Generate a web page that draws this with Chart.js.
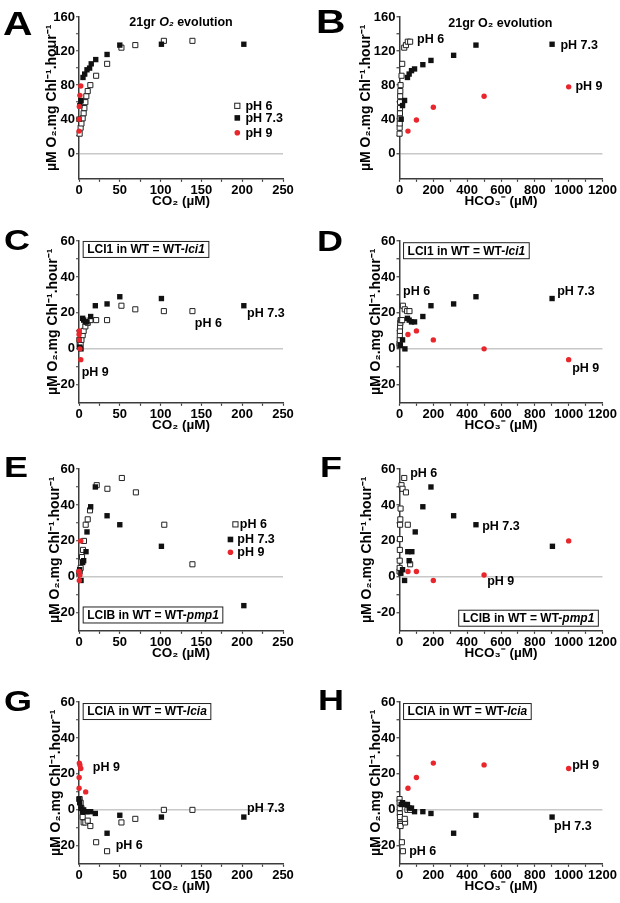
<!DOCTYPE html>
<html>
<head>
<meta charset="utf-8">
<script src="https://cdn.jsdelivr.net/npm/chart.js@4.4.1/dist/chart.umd.min.js"></script>
<style>
  body { margin: 0; background: #fff; }
  #fig { position: relative; width: 620px; height: 903px; overflow: hidden; }
  canvas { position: absolute; }
  .tag { position: absolute; font: bold 30px "Liberation Sans", Arial, sans-serif; line-height: 1;
         transform: scaleX(1.2); transform-origin: left top; color: #000; }
</style>
</head>
<body>
<div id="fig">
  <canvas id="pA"></canvas><canvas id="pB"></canvas>
  <canvas id="pC"></canvas><canvas id="pD"></canvas>
  <canvas id="pE"></canvas><canvas id="pF"></canvas>
  <canvas id="pG"></canvas><canvas id="pH"></canvas>
  <div class="tag" style="left:3px;top:6px;font-size:34px">A</div>
  <div class="tag" style="left:316px;top:4px;font-size:34px">B</div>
  <div class="tag" style="left:4px;top:225px">C</div>
  <div class="tag" style="left:317px;top:226px">D</div>
  <div class="tag" style="left:4px;top:452px">E</div>
  <div class="tag" style="left:320px;top:452px">F</div>
  <div class="tag" style="left:4px;top:686px">G</div>
  <div class="tag" style="left:318px;top:685px">H</div>
</div>
<script>
const FONT = '"Liberation Sans", Arial, Helvetica, sans-serif';
const AXIS = '#3c3c3c';
const RED = '#e8262b';

// tick labels
const co2Ticks = [0, 50, 100, 150, 200, 250];
const hco3Ticks = [0, 200, 400, 600, 800, 1000, 1200];
const rateTicksBig = [0, 40, 80, 120, 160];
const rateTicks = [-20, 0, 20, 40, 60];

// [CO2 or HCO3- (uM), rate] pairs, per panel and pH
const aPh6 = [[0.8,23],[2,30],[3,35],[4.5,41],[5.7,47],[6.6,53],[7.8,60],[9,67],[10.7,73],[13.9,80],[21,91],[34.5,105],[52,124],[69,127],[104,132],[139,132]];
const aPh73 = [[0,40],[1,56],[2.5,62],[4.9,89],[7,93],[9.8,98],[13,100],[15,105],[20.5,110],[34.4,116],[50,127],[101,128],[202,128]];
const aPh9 = [[0.1,26],[0.2,40],[0.4,55],[1.1,68],[2.2,79]];

const bPh6 = [[0.4,23],[0.9,30],[1.4,35],[2,41],[2.6,47],[3,53],[3.5,60],[4,67],[4.8,73],[6.3,80],[12,91],[16,105],[28,124],[38,127],[49,131],[63,131]];
const bPh73 = [[10,40],[18,56],[30,62],[47,89],[57,93],[71,97],[89,99],[138,104],[186,109],[320,115],[452,127],[902,128]];
const bPh9 = [[50,26],[100,39],[200,54],[500,67],[1000,78]];

const cPh6 = [[0.8,2],[2,3],[3,5],[4.5,7.6],[5.7,10],[7.8,12.5],[10.7,14.5],[14,16],[21,16],[34.4,16],[52,24],[69,22],[104,21],[139,21]];
const cPh73 = [[0,5],[0.8,1],[2.5,0],[4.5,17],[5.7,16],[7.8,15],[9.8,15],[14.3,18],[20,24],[34.4,25],[50,29],[101,28],[202,24]];
const cPh9 = [[0.1,8],[0.2,10],[0.4,5],[1.1,0],[2.2,-6]];

const dPh6 = [[0.4,2],[0.9,3],[1.4,5],[2,7.6],[2.6,10],[3.5,12.5],[4.8,14.5],[6.3,16],[10,16],[16,16],[20,24],[31,22],[45,21],[59,21]];
const dPh73 = [[5,2],[18,5],[32,0],[47,17],[57,16],[71,15],[89,15],[138,18],[186,24],[320,25],[452,29],[902,28]];
const dPh9 = [[50,8],[100,10],[200,5],[500,0],[1000,-6]];

const ePh6 = [[0.8,3],[2,5],[3.7,11],[4.9,15],[6.1,20],[8.2,29],[10.7,32],[13.5,37],[21.7,51],[34.8,49],[52.5,55],[69.7,47],[104.5,29],[139,7]];
const ePh73 = [[0,2],[0.8,4],[2.5,-2],[4.5,8],[5.7,9],[8.6,14],[9.8,25],[14.3,39],[20,50],[34.4,34],[50,29],[101,17],[202,-16]];
const ePh9 = [[0.1,3],[0.2,3],[0.4,-2],[1.1,1],[2.2,20]];

const fPh6 = [[0.4,3],[0.9,5],[1.4,9],[2,15],[2.6,21],[3.5,29],[4.8,32],[6.3,38],[12,51],[18,49],[28,55],[38,47],[49,29],[63,7]];
const fPh73 = [[8,2],[18,4],[30,-2],[49,14],[57,9],[73,14],[93,25],[138,39],[186,50],[320,34],[452,29],[904,17]];
const fPh9 = [[50,3],[100,3],[200,-2],[500,1],[1000,20]];

const gPh6 = [[0.8,6],[2,4],[3,1],[4.5,-4],[5.7,-7],[7.8,-7],[10.7,-6],[13.9,-9],[21,-18],[34.4,-23],[52,-7],[69,-5],[104,0],[139,0]];
const gPh73 = [[0,6],[0.8,4],[2.5,1],[4.5,-1],[5.7,0],[7.8,-1],[9.8,-1],[14.3,-1],[20,-2],[34.4,-13],[50,-3],[101,-4],[202,-4]];
const gPh9 = [[0.1,12],[0.2,18],[0.4,26],[1.1,25],[2.2,23],[8.2,10]];

const hPh6 = [[0.4,6],[0.9,4],[1.4,1],[2,-2],[2.6,-4],[3.5,-7],[4.8,-8],[6.3,-9],[14,-18],[20,-23],[33,-7],[31,-5],[47,0],[63,0]];
const hPh73 = [[10,3],[18,4],[30,3],[47,3],[57,1],[71,1],[89,-1],[138,-1],[186,-2],[320,-13],[452,-3],[902,-4]];
const hPh9 = [[50,12],[100,18],[200,26],[500,25],[1000,23]];

const pts = arr => arr.map(([x, y]) => ({x, y}));

function series(ph6, ph73, ph9) {
  return [
    {label: 'pH 9', data: pts(ph9), pointStyle: 'circle', pointRadius: 2.7, backgroundColor: RED, borderColor: RED, borderWidth: 0},
    {label: 'pH 7.3', data: pts(ph73), pointStyle: 'rect', pointRadius: 3.8, backgroundColor: '#111', borderColor: '#111', borderWidth: 0},
    {label: 'pH 6', data: pts(ph6), pointStyle: 'rect', pointRadius: 3.6, backgroundColor: '#fff', borderColor: '#222', borderWidth: 1},
  ].map(d => Object.assign(d, {clip: false, pointHoverRadius: d.pointRadius}));
}

// text with *italic* parts
function segs(text) {
  return text.split('*').map((t, i) => ({t, it: i % 2 === 1})).filter(s => s.t);
}
function fontFor(it, size) {
  return (it ? 'italic ' : '') + 'bold ' + size + 'px ' + FONT;
}
function textWidth(ctx, text, size) {
  let w = 0;
  for (const s of segs(text)) { ctx.font = fontFor(s.it, size); w += ctx.measureText(s.t).width; }
  return w;
}
function drawText(ctx, text, x, y, size) {
  let cx = x;
  for (const s of segs(text)) {
    ctx.font = fontFor(s.it, size);
    ctx.fillText(s.t, cx, y);
    cx += ctx.measureText(s.t).width;
  }
}
function drawMark(ctx, kind, x, y) {
  if (kind === 'red') {
    ctx.fillStyle = RED;
    ctx.beginPath(); ctx.arc(x, y, 2.8, 0, Math.PI * 2); ctx.fill();
  } else if (kind === 'filled') {
    ctx.fillStyle = '#111';
    ctx.fillRect(x - 2.8, y - 2.8, 5.6, 5.6);
  } else {
    ctx.fillStyle = '#fff'; ctx.strokeStyle = '#222'; ctx.lineWidth = 1;
    ctx.fillRect(x - 2.6, y - 2.6, 5.2, 5.2);
    ctx.strokeRect(x - 2.6, y - 2.6, 5.2, 5.2);
  }
}

function notes(items) {
  return {
    id: 'notes',
    afterDatasetsDraw(chart) {
      const ctx = chart.ctx, sx = chart.scales.x, sy = chart.scales.y;
      ctx.save();
      ctx.textBaseline = 'middle';
      for (const n of items) {
        const px = sx.getPixelForValue(n.x), py = sy.getPixelForValue(n.y);
        const size = n.box ? 12 : 12.5;
        if (n.mark) drawMark(ctx, n.mark, sx.getPixelForValue(n.mx), py);
        const w = textWidth(ctx, n.text, size);
        let tx = n.center ? px - w / 2 : px;
        if (n.box) {
          ctx.fillStyle = '#fff'; ctx.strokeStyle = '#222'; ctx.lineWidth = 1;
          ctx.fillRect(px, py - 8.5, w + 9, 17);
          ctx.strokeRect(px + 0.5, py - 8, w + 8, 16);
          tx = px + 4.5;
        }
        ctx.fillStyle = '#000';
        drawText(ctx, n.text, tx, py + 0.5, size);
      }
      ctx.restore();
    }
  };
}

function panel(id, o) {
  const canvas = document.getElementById(id);
  canvas.width = 310; canvas.height = 210;
  canvas.style.left = (o.right ? 310 : 0) + 'px';
  canvas.style.top = (o.top - 14) + 'px';
  const axisX = o.right ? 89.5 : 79;
  const padL = o.titleX - 8.4;
  const xMax = o.right ? 1200 : 250;
  const xStep = o.right ? 100 : 25;
  const xMajor = o.right ? hco3Ticks : co2Ticks;
  const big = o.big;
  const yMin = -30, yMax = big ? 160 : 60;
  const yMajor = big ? rateTicksBig : rateTicks;
  const tickFont = {family: FONT, size: 13, weight: 'bold'};
  const xTitleFont = {family: FONT, size: 13.5, weight: 'bold'};
  const yTitleFont = {family: FONT, size: 14, weight: 'bold'};

  new Chart(canvas, {
    type: 'scatter',
    data: {datasets: series(o.ph6, o.ph73, o.ph9)},
    options: {
      responsive: false,
      animation: false,
      devicePixelRatio: 1,
      events: [],
      layout: {padding: {top: 14, right: o.right ? 17.5 : 27, bottom: 3.2, left: padL}},
      plugins: {legend: {display: false}, tooltip: {enabled: false}},
      scales: {
        x: {
          type: 'linear', min: 0, max: xMax,
          afterFit: s => { s.height = 31; },
          border: {display: true, color: AXIS, width: 1.5},
          grid: {drawOnChartArea: false, drawTicks: true, tickLength: 3, tickColor: AXIS, tickWidth: 1.2},
          ticks: {stepSize: xStep, autoSkip: false, maxRotation: 0, padding: 1, color: '#000', font: tickFont,
                  callback: v => xMajor.includes(v) ? String(v) : ''},
          title: {display: true, text: o.right ? 'HCO₃⁻ (µM)' : 'CO₂ (µM)', color: '#000', padding: 0, font: xTitleFont}
        },
        y: {
          type: 'linear', min: yMin, max: yMax,
          afterFit: s => { s.width = axisX - padL; },
          afterBuildTicks: s => { s.ticks = s.ticks.filter(t => t.value > yMin); },
          border: {display: true, color: AXIS, width: 1.5},
          grid: {drawOnChartArea: true, lineWidth: 1.5, tickLength: 3, tickColor: AXIS, tickWidth: 1.2,
                 color: c => (c.tick && c.tick.value === 0) ? '#c8c8c8' : 'rgba(0,0,0,0)'},
          ticks: {stepSize: big ? 20 : 10, autoSkip: false, padding: 1, color: '#000', font: tickFont,
                  callback: v => yMajor.includes(v) ? String(v) : ''},
          title: {display: true, text: 'µM O₂.mg Chl⁻¹.hour⁻¹', color: '#000', padding: 0, font: yTitleFont}
        }
      }
    },
    plugins: [notes(o.notes)]
  });
}

panel('pA', {top: 16.7, titleX: 52, big: true, ph6: aPh6, ph73: aPh73, ph9: aPh9, notes: [
  {text: '21gr *O₂* evolution', x: 125, y: 154, center: true},
  {mark: 'open', mx: 194, text: 'pH 6', x: 204, y: 55.7},
  {mark: 'filled', mx: 194, text: 'pH 7.3', x: 204, y: 41.5},
  {mark: 'red', mx: 194, text: 'pH 9', x: 204, y: 24}
]});
panel('pB', {top: 16.7, right: true, titleX: 55.7, big: true, ph6: bPh6, ph73: bPh73, ph9: bPh9, notes: [
  {text: '21gr O₂ evolution', x: 596, y: 152.7, center: true},
  {text: 'pH 6', x: 104, y: 134},
  {text: 'pH 7.3', x: 951, y: 127},
  {text: 'pH 9', x: 1040, y: 79}
]});
panel('pC', {top: 240.5, titleX: 52.7, ph6: cPh6, ph73: cPh73, ph9: cPh9, notes: [
  {box: true, text: 'LCI1 in WT = WT-*lci1*', x: 4.5, y: 55.3},
  {text: 'pH 6', x: 142, y: 14.3},
  {text: 'pH 7.3', x: 206, y: 20},
  {text: 'pH 9', x: 3.3, y: -13}
]});
panel('pD', {top: 240.5, right: true, titleX: 66, ph6: dPh6, ph73: dPh73, ph9: dPh9, notes: [
  {box: true, text: 'LCI1 in WT = WT-*lci1*', x: 21, y: 54.6},
  {text: 'pH 6', x: 21, y: 32.3},
  {text: 'pH 7.3', x: 932, y: 32.3},
  {text: 'pH 9', x: 1021, y: -10.6}
]});
panel('pE', {top: 469, titleX: 55.5, ph6: ePh6, ph73: ePh73, ph9: ePh9, notes: [
  {box: true, text: 'LCIB in WT = WT-*pmp1*', x: 4.5, y: -21.2},
  {mark: 'open', mx: 191.7, text: 'pH 6', x: 197, y: 29.2},
  {mark: 'filled', mx: 185.6, text: 'pH 7.3', x: 194, y: 20.8},
  {mark: 'red', mx: 185.6, text: 'pH 9', x: 194, y: 13.7}
]});
panel('pF', {top: 469, right: true, titleX: 56.7, ph6: fPh6, ph73: fPh73, ph9: fPh9, notes: [
  {box: true, text: 'LCIB in WT = WT-*pmp1*', x: 347, y: -23},
  {text: 'pH 6', x: 63, y: 57.8},
  {text: 'pH 7.3', x: 489, y: 28.5},
  {text: 'pH 9', x: 518, y: -2.4}
]});
panel('pG', {top: 701.5, titleX: 55.8, ph6: gPh6, ph73: gPh73, ph9: gPh9, notes: [
  {box: true, text: 'LCIA in WT = WT-*lcia*', x: 4.5, y: 54.7},
  {text: 'pH 9', x: 17, y: 24},
  {text: 'pH 6', x: 45, y: -19.4},
  {text: 'pH 7.3', x: 206, y: 1.1}
]});
panel('pH', {top: 701.5, right: true, titleX: 66, ph6: hPh6, ph73: hPh73, ph9: hPh9, notes: [
  {box: true, text: 'LCIA in WT = WT-*lcia*', x: 21, y: 54.7},
  {text: 'pH 9', x: 1021, y: 25},
  {text: 'pH 7.3', x: 914, y: -8.9},
  {text: 'pH 6', x: 57, y: -22.8}
]});
</script>
</body>
</html>
